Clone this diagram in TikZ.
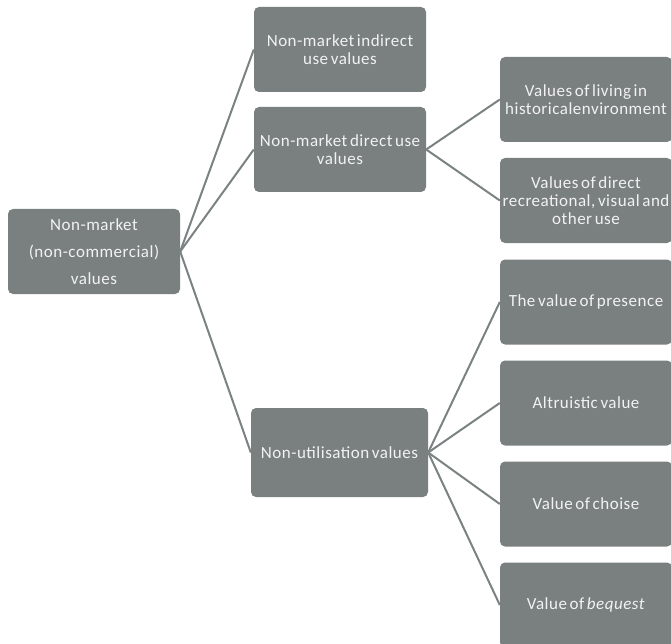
\documentclass[tikz,border=0pt]{standalone}
\usepackage{fontspec}
\setmainfont[LetterSpace=3,WordSpace=0.6]{Carlito}
\usepackage{xcolor}
\definecolor{cBox}{HTML}{7A8080}
\definecolor{cLine}{HTML}{7A8282}
\definecolor{cText}{HTML}{F2F2F2}
\usepackage{tikz}
\usetikzlibrary{positioning}
\tikzset{
  node-box/.style={fill=cBox,rounded corners=5pt,text=cText,align=center,
    minimum width=172pt,minimum height=85pt,inner sep=0pt,
    font=\fontsize{17pt}{18pt}\selectfont},
  node-root/.style={node-box,font=\fontsize{17pt}{27pt}\selectfont},
  link/.style={draw=cLine,line width=2pt},
}
\begin{document}
\begin{tikzpicture}[x=1pt,y=-1pt]
  \useasboundingbox (0,0) rectangle (671,644);
  % root and first level
  \node[node-root] (root) at (94,251.5) {Non-market\\(non-commercial)\\values};
  \node[node-box] (indirect) at (340,49.5) {Non-market indirect\\use values};
  \node[node-box] (direct) at (340,149.5) {Non-market direct use\\values};
  \node[node-box,minimum width=177pt,minimum height=89pt] (nonutil) at (339.5,452.5) {Non-utilisation values};
  % second level
  \node[node-box] (living) at (586,99.5) {Values of living in\\historicalenvironment};
  \node[node-box] (recreation) at (586,200.5) {Values of direct\\recreational, visual and\\other use};
  \node[node-box] (presence) at (586,302) {The value of presence};
  \node[node-box] (altruistic) at (586,403) {Altruistic value};
  \node[node-box] (choise) at (586,504) {Value of choise};
  \node[node-box] (bequest) at (586,605) {Value of \textit{bequest}};
  \foreach \n in {indirect,direct,nonutil}
    \draw[link] (root.east) -- (\n.west);
  \foreach \n in {living,recreation}
    \draw[link] (direct.east) -- (\n.west);
  \foreach \n in {presence,altruistic,choise,bequest}
    \draw[link] (nonutil.east) -- (\n.west);
\end{tikzpicture}
\end{document}
